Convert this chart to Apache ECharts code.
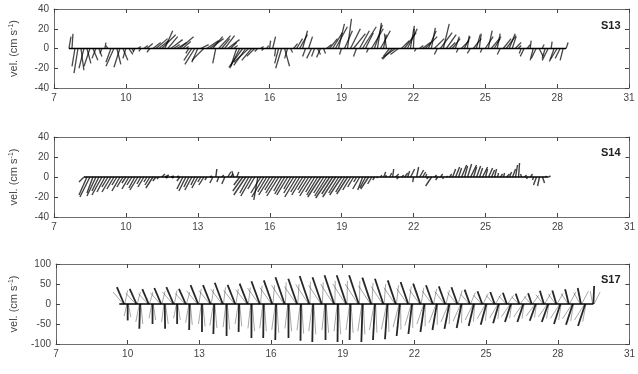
<!DOCTYPE html>
<html>
  <head>
    <meta charset="utf-8" />
    <script src="https://cdn.jsdelivr.net/npm/echarts@6.0.0/dist/echarts.min.js"></script>
  </head>
  <body style="margin:0;background:#fff;">
    <div id="main" style="width: 638px;height:374px;"></div>
    <script type="text/javascript">
      // stick plots: each row is [day, u (cm/s), v (cm/s)]
      var s13 = [
        [7.625,2,12],[7.75,1,15],[7.875,-3,-18],[8.0,-4,-25],[8.125,3,-22],[8.25,-5,-20],[8.375,4,-15],[8.5,-6,-18],
        [8.625,5,-12],[8.75,-4,-10],[8.875,3,-8],[9.0,-2,-5],[9.125,1,6],[9.25,-2,3],[9.375,-5,-14],[9.5,-8,-18],
        [9.625,4,-16],[9.75,-6,-19],[9.875,5,-12],[10.0,-3,-10],[10.125,4,-6],[10.25,2,-3],[10.375,-2,-4],[10.5,3,2],
        [10.625,-2,-3],[10.75,4,3],[10.875,6,5],[11.0,-3,-4],[11.125,8,6],[11.25,12,10],[11.375,10,8],[11.5,14,14],
        [11.625,8,18],[11.75,10,12],[11.875,12,9],[12.0,6,4],[12.125,10,6],[12.25,14,12],[12.375,8,7],[12.5,3,2],
        [12.625,-3,-5],[12.75,-8,-12],[12.875,-10,-16],[13.0,-6,-14],[13.125,8,4],[13.25,-12,-12],[13.375,12,8],[13.5,14,10],
        [13.625,10,12],[13.75,-3,-15],[13.875,12,13],[14.0,8,10],[14.125,10,13],[14.25,12,9],[14.375,6,6],[14.5,4,3],
        [14.625,-6,-18],[14.75,-10,-20],[14.875,-14,-19],[15.0,-12,-17],[15.125,-15,-14],[15.25,-10,-12],[15.375,-8,-8],[15.5,-3,-3],
        [15.625,3,2],[15.75,-2,-2],[15.875,2,3],[16.0,1,8],[16.125,3,12],[16.25,-1,-8],[16.375,-4,-15],[16.5,-6,-20],
        [16.625,5,-18],[16.75,-3,-10],[16.875,2,-4],[17.0,4,5],[17.125,6,10],[17.25,8,14],[17.375,5,18],[17.5,-3,-8],
        [17.625,4,12],[17.75,-5,-10],[17.875,-3,-8],[18.0,3,-6],[18.125,-4,-9],[18.25,2,-5],[18.375,5,4],[18.5,8,10],
        [18.625,10,16],[18.75,12,22],[18.875,6,25],[19.0,-2,-6],[19.125,8,18],[19.25,4,30],[19.375,10,20],[19.5,12,15],
        [19.625,-3,-8],[19.75,10,18],[19.875,14,22],[20.0,8,16],[20.125,-2,-4],[20.25,12,20],[20.375,8,24],[20.5,4,26],
        [20.625,10,18],[20.75,3,14],[20.875,-2,15],[21.0,-6,-8],[21.125,-10,-11],[21.25,-14,-10],[21.375,-8,-6],[21.5,8,8],
        [21.625,12,16],[21.75,10,20],[21.875,4,23],[22.0,1,20],[22.125,-2,-3],[22.25,4,3],[22.375,8,6],[22.5,12,12],
        [22.625,8,18],[22.75,4,21],[22.875,10,10],[23.0,-3,-6],[23.125,12,16],[23.25,6,25],[23.375,10,14],[23.5,6,6],
        [23.625,8,10],[23.75,4,12],[23.875,-2,-4],[24.0,8,8],[24.125,6,12],[24.25,2,13],[24.375,-3,-5],[24.5,8,10],
        [24.625,4,14],[24.75,2,15],[24.875,-2,-4],[25.0,8,12],[25.125,4,18],[25.25,10,12],[25.375,6,10],[25.5,3,15],
        [25.625,-3,-6],[25.75,8,10],[25.875,10,13],[26.0,6,15],[26.125,4,12],[26.25,6,6],[26.375,3,3],[26.5,-2,-5],
        [26.625,-4,-8],[26.75,3,4],[26.875,1,8],[27.0,-3,-12],[27.125,-5,-10],[27.25,4,-8],[27.375,2,4],[27.5,-3,-10],
        [27.625,-6,-12],[27.75,1,7],[27.875,-4,-11],[28.0,-8,-13],[28.125,-5,-10],[28.25,-3,-12],[28.375,2,6]
      ];

      var s14 = [
        [8.25,-5,-5],[8.375,-8,-18],[8.5,-10,-20],[8.625,-6,-16],[8.75,-9,-19],[8.875,-7,-14],[9.0,-10,-18],[9.125,-8,-15],
        [9.25,-6,-10],[9.375,-9,-15],[9.5,-7,-12],[9.625,-5,-8],[9.75,-8,-14],[9.875,-6,-10],[10.0,-4,-6],[10.125,-7,-12],
        [10.25,-5,-8],[10.375,-6,-11],[10.5,-8,-13],[10.625,-4,-7],[10.75,-6,-10],[10.875,-3,-5],[11.0,-5,-8],[11.125,-7,-11],
        [11.25,-3,-4],[11.375,-2,-2],[11.5,3,3],[11.625,4,2],[11.75,-2,-1],[11.875,3,1],[12.0,-2,-1],[12.125,2,1],
        [12.25,-3,-4],[12.375,-6,-12],[12.5,-7,-14],[12.625,-5,-10],[12.75,-7,-13],[12.875,-4,-8],[13.0,-6,-11],[13.125,-3,-5],
        [13.25,-5,-8],[13.375,-2,-3],[13.5,2,1],[13.625,-3,-6],[13.75,1,8],[13.875,-2,-5],[14.0,2,2],[14.125,-3,-7],
        [14.25,3,5],[14.375,2,3],[14.5,-2,6],[14.625,2,5],[14.75,-6,-8],[14.875,-10,-14],[15.0,-12,-18],[15.125,-9,-16],
        [15.25,-11,-19],[15.375,-7,-12],[15.5,-4,-23],[15.625,-10,-16],[15.75,-12,-20],[15.875,-9,-15],[16.0,-11,-18],[16.125,-8,-13],
        [16.25,-10,-16],[16.375,-12,-19],[16.5,-8,-14],[16.625,-10,-17],[16.75,-11,-18],[16.875,-7,-12],[17.0,-10,-16],[17.125,-12,-20],
        [17.25,-9,-15],[17.375,-11,-18],[17.5,-8,-13],[17.625,-10,-16],[17.75,-12,-19],[17.875,-9,-15],[18.0,-11,-18],[18.125,-13,-20],
        [18.25,-10,-16],[18.375,-12,-19],[18.5,-14,-21],[18.625,-11,-17],[18.75,-13,-20],[18.875,-10,-16],[19.0,-12,-18],[19.125,-9,-15],
        [19.25,-11,-17],[19.375,-8,-13],[19.5,-6,-10],[19.625,-3,-5],[19.75,-7,-12],[19.875,-5,-13],[20.0,-6,-11],[20.125,-8,-12],
        [20.25,-4,-7],[20.375,-2,-3],[20.5,-1,-1],[20.625,1,2],[20.75,2,5],[20.875,-1,2],[21.0,2,4],[21.125,1,8],
        [21.25,3,3],[21.375,-2,-2],[21.5,2,2],[21.625,3,4],[21.75,2,6],[21.875,4,8],[22.0,-1,-5],[22.125,2,10],
        [22.25,4,7],[22.375,3,5],[22.5,1,3],[22.625,-2,-2],[22.75,-6,-9],[22.875,2,2],[23.0,-2,-3],[23.125,2,3],
        [23.25,-1,-2],[23.375,1,1],[23.5,2,3],[23.625,3,8],[23.75,4,10],[23.875,3,9],[24.0,5,12],[24.125,3,11],
        [24.25,4,13],[24.375,6,12],[24.5,3,10],[24.625,4,11],[24.75,3,9],[24.875,5,10],[25.0,2,8],[25.125,4,9],
        [25.25,3,7],[25.375,2,8],[25.5,1,4],[25.625,2,3],[25.75,1,4],[25.875,3,3],[26.0,2,5],[26.125,3,8],
        [26.25,2,12],[26.375,1,14],[26.5,-1,3],[26.625,2,2],[26.75,-1,-2],[26.875,2,3],[27.0,-1,-3],[27.125,-3,-8],
        [27.25,-2,-9],[27.375,2,-6],[27.5,1,1],[27.625,2,1]
      ];

      // S17: dominant semidiurnal sticks (main) and the lighter sticks of each fan
      var s17Up = [
        [9.85,-18,42],[10.37,-17,38],[10.88,-16,37],[11.40,-17,40],[11.92,-18,42],[12.43,-17,38],[12.95,-19,47],[13.47,-19,47],
        [13.98,-20,53],[14.50,-19,48],[15.02,-20,51],[15.53,-21,57],[16.05,-21,59],[16.57,-23,67],[17.09,-22,63],[17.60,-24,70],
        [18.12,-23,67],[18.64,-24,72],[19.15,-24,72],[19.67,-24,72],[20.19,-22,66],[20.70,-21,63],[21.22,-20,59],[21.74,-19,55],
        [22.25,-18,51],[22.77,-17,47],[23.29,-16,44],[23.80,-15,42],[24.32,-13,36],[24.84,-12,32],[25.36,-11,30],[25.87,-10,28],
        [26.39,-9,26],[26.91,-9,27],[27.42,-10,33],[27.94,-10,34],[28.46,-9,37],[28.97,-8,40],[29.49,2,45]
      ];
      var s17Down = [
        [10.00,0,-41],[10.52,-2,-62],[11.04,0,-50],[11.55,1,-62],[12.07,0,-50],[12.59,-1,-65],[13.11,0,-70],[13.62,-2,-75],
        [14.14,0,-80],[14.66,-1,-70],[15.18,0,-85],[15.69,-1,-85],[16.21,-2,-90],[16.73,0,-85],[17.25,-1,-92],[17.76,-2,-95],
        [18.28,0,-90],[18.80,-1,-95],[19.32,-2,-90],[19.83,-3,-95],[20.35,-5,-90],[20.87,-6,-88],[21.39,-8,-80],[21.90,-9,-75],
        [22.42,-10,-70],[22.94,-11,-65],[23.46,-12,-62],[23.97,-12,-60],[24.49,-13,-55],[25.01,-14,-52],[25.53,-14,-48],[26.04,-15,-45],
        [26.56,-15,-45],[27.08,-15,-42],[27.60,-16,-45],[28.11,-16,-50],[28.63,-17,-52],[29.15,-18,-55]
      ];
      var s17UpFanR = [
        [9.88,7,34],[10.40,8,30],[10.91,9,30],[11.43,8,32],[11.95,7,34],[12.46,8,30],[12.98,6,38],[13.50,6,38],
        [14.01,5,42],[14.53,6,38],[15.05,5,41],[15.56,4,46],[16.08,4,47],[16.60,2,54],[17.12,3,50],[17.63,1,56],
        [18.15,2,54],[18.67,1,58],[19.18,1,58],[19.70,1,58],[20.22,3,53],[20.73,4,50],[21.25,5,47],[21.77,6,44],
        [22.28,7,41],[22.80,8,38],[23.32,9,35],[23.83,10,34],[24.35,12,29],[24.87,13,26],[25.39,14,24],[25.90,15,22],
        [26.42,16,21],[26.94,16,22],[27.45,15,26],[27.97,15,27],[28.49,16,30],[29.00,17,32],[29.52,15,30]
      ];
      var s17UpFanL = [
        [9.82,-26,30],[10.34,-25,27],[10.85,-24,26],[11.37,-25,28],[11.89,-26,30],[12.40,-25,27],[12.92,-27,33],[13.44,-27,33],
        [13.95,-28,37],[14.47,-27,34],[14.99,-28,36],[15.50,-29,40],[16.02,-29,41],[16.54,-31,47],[17.06,-30,44],[17.57,-32,49],
        [18.09,-31,47],[18.61,-32,50],[19.12,-32,50],[19.64,-32,50],[20.16,-30,46],[20.67,-29,44],[21.19,-28,41],[21.71,-27,39],
        [22.22,-26,36],[22.74,-25,33],[23.26,-24,31],[23.77,-23,29],[24.29,-21,25],[24.81,-20,22],[25.33,-19,21],[25.84,-18,20],
        [26.36,-17,18],[26.88,-17,19],[27.39,-18,23],[27.91,-18,24],[28.43,-17,26],[28.94,-16,28],[29.46,-6,32]
      ];
      var s17DownFanR = [
        [10.03,6,-33],[10.55,5,-50],[11.07,6,-40],[11.58,7,-50],[12.10,6,-40],[12.62,5,-52],[13.14,6,-56],[13.65,5,-60],
        [14.17,6,-64],[14.69,5,-56],[15.21,6,-68],[15.72,5,-68],[16.24,5,-72],[16.76,6,-68],[17.28,5,-74],[17.79,5,-76],
        [18.31,6,-72],[18.83,5,-76],[19.35,5,-72],[19.86,4,-76],[20.38,3,-72],[20.90,2,-70],[21.42,1,-64],[21.93,0,-60],
        [22.45,0,-56],[22.97,-1,-52],[23.49,-2,-50],[24.00,-2,-48],[24.52,-3,-44],[25.04,-4,-42],[25.56,-4,-38],[26.07,-5,-36],
        [26.59,-5,-36],[27.11,-5,-34],[27.63,-6,-36],[28.14,-6,-40],[28.66,-7,-42],[29.18,-8,-44]
      ];
      var s17DownFanL = [
        [9.97,-7,-30],[10.49,-9,-45],[11.01,-7,-36],[11.52,-6,-45],[12.04,-7,-36],[12.56,-8,-47],[13.08,-7,-50],[13.59,-9,-54],
        [14.11,-7,-58],[14.63,-8,-50],[15.15,-7,-61],[15.66,-8,-61],[16.18,-9,-65],[16.70,-7,-61],[17.22,-8,-66],[17.73,-9,-68],
        [18.25,-7,-65],[18.77,-8,-68],[19.29,-9,-65],[19.80,-10,-68],[20.32,-12,-65],[20.84,-13,-63],[21.36,-15,-58],[21.87,-16,-54],
        [22.39,-17,-50],[22.91,-18,-47],[23.43,-19,-45],[23.94,-19,-43],[24.46,-20,-40],[24.98,-21,-37],[25.50,-21,-35],[26.01,-22,-32],
        [26.53,-22,-32],[27.05,-22,-30],[27.57,-23,-32],[28.08,-23,-36],[28.60,-24,-37],[29.12,-25,-40]
      ];

      var stations = ['S13', 'S14', 'S17'];
      var dayTicks = { min: 7, max: 31, interval: 3 };
      var velRanges = [[-40, 40, 20], [-40, 40, 20], [-100, 100, 50]];

      var FONT = '"Liberation Sans", Arial, sans-serif';
      var grids = [
        { left: 52, top: 9, width: 577, height: 79 },
        { left: 53, top: 137, width: 577, height: 80 },
        { left: 53, top: 264, width: 578, height: 80 }
      ];
      var titleTops = [15, 142, 269];

      function stickRenderer(color, width) {
        return function (params, api) {
          var t = api.value(0), u = api.value(1), v = api.value(2);
          var p0 = api.coord([t, 0]);
          var p1 = api.coord([t, v]);
          // same pixel scale for u as for v
          var k = p0[1] - api.coord([t, 1])[1];
          return {
            type: 'line',
            shape: { x1: p0[0], y1: p0[1], x2: p0[0] + u * k, y2: p1[1] },
            style: { stroke: color, lineWidth: width }
          };
        };
      }

      var xAxes = [], yAxes = [], series = [], titles = [];
      var axisLine = { show: true, onZero: false, lineStyle: { color: '#6e6e6e', width: 1 } };
      var tick = { show: true, inside: true, length: 4, lineStyle: { color: '#444' } };

      for (var i = 0; i < 3; i++) {
        xAxes.push({
          gridIndex: i, type: 'value', min: dayTicks.min, max: dayTicks.max, interval: dayTicks.interval,
          axisLine: axisLine, axisTick: tick, splitLine: { show: false },
          axisLabel: { fontSize: 10, color: '#444', margin: 5, fontFamily: FONT }
        });
        xAxes.push({
          gridIndex: i, type: 'value', position: 'top', min: dayTicks.min, max: dayTicks.max, interval: dayTicks.interval,
          axisLine: axisLine, axisTick: tick, splitLine: { show: false }, axisLabel: { show: false }
        });
        yAxes.push({
          gridIndex: i, type: 'value', min: velRanges[i][0], max: velRanges[i][1], interval: velRanges[i][2],
          axisLine: axisLine, axisTick: tick, splitLine: { show: false },
          axisLabel: { fontSize: 10, color: '#444', margin: 5, fontFamily: FONT },
          name: 'vel. (cm s{sup|-1})', nameLocation: 'middle', nameGap: i === 2 ? 36 : 34,
          nameTextStyle: {
            fontSize: 11, color: '#444', fontFamily: FONT,
            rich: { sup: { fontSize: 7, color: '#444', fontFamily: FONT, verticalAlign: 'top', padding: [0, 0, 5, 0] } }
          }
        });
        yAxes.push({
          gridIndex: i, type: 'value', position: 'right', min: velRanges[i][0], max: velRanges[i][1], interval: velRanges[i][2],
          axisLine: axisLine, axisTick: tick, splitLine: { show: false }, axisLabel: { show: false }
        });
        titles.push({
          text: stations[i], left: 596, top: titleTops[i],
          textStyle: { fontSize: 11, fontWeight: 'bold', color: '#222', fontFamily: FONT }
        });
      }

      function addSticks(panel, rows, color, width) {
        series.push({
          type: 'custom', xAxisIndex: panel * 2, yAxisIndex: panel * 2,
          renderItem: stickRenderer(color, width), encode: { x: 0, y: 2 },
          data: rows, silent: true
        });
      }
      function addBaseline(panel, t0, t1) {
        series.push({
          type: 'line', xAxisIndex: panel * 2, yAxisIndex: panel * 2, symbol: 'none', silent: true,
          lineStyle: { color: '#000', width: 1.4 }, data: [[t0, 0], [t1, 0]]
        });
      }

      addSticks(0, s13, 'rgba(0,0,0,0.72)', 1.3);
      addBaseline(0, s13[0][0], s13[s13.length - 1][0]);
      addSticks(1, s14, 'rgba(0,0,0,0.75)', 1.4);
      addBaseline(1, s14[0][0], s14[s14.length - 1][0]);
      var s17Fans = s17UpFanR.concat(s17UpFanL, s17DownFanR, s17DownFanL);
      addSticks(2, s17Fans, 'rgba(0,0,0,0.35)', 1);
      addSticks(2, s17Up.concat(s17Down), 'rgba(0,0,0,0.85)', 1.8);
      addBaseline(2, s17Up[0][0] - 0.2, s17Up[s17Up.length - 1][0]);

      var myChart = echarts.init(document.getElementById('main'));
      myChart.setOption({
        backgroundColor: '#fff',
        animation: false,
        title: titles,
        grid: grids,
        xAxis: xAxes,
        yAxis: yAxes,
        series: series
      });
    </script>
  </body>
</html>
